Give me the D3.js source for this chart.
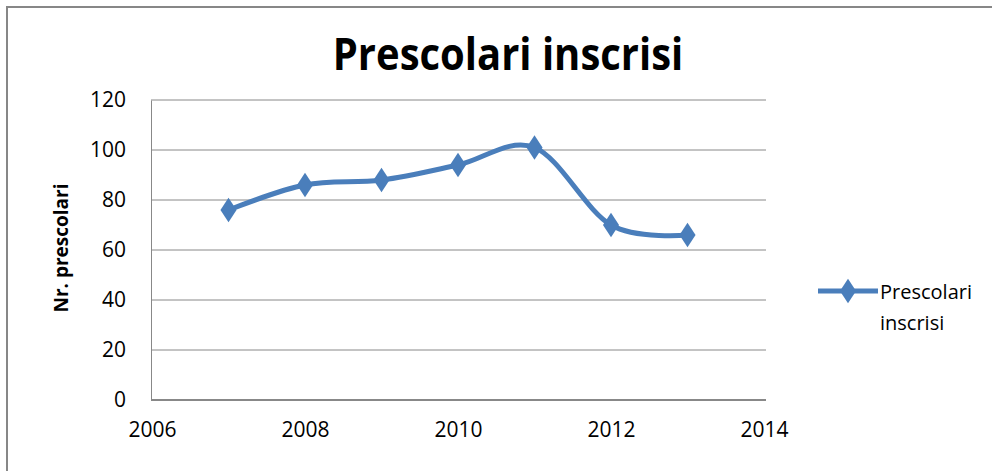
<!DOCTYPE html>
<head>
  <meta charset="utf-8">
  <title>Prescolari inscrisi</title>
  <script src="https://cdn.jsdelivr.net/npm/d3@7"></script>
  <style>
    body { margin: 0; background: #fff; }
    text { font-family: "Open Sans", sans-serif; }
  </style>
</head>
<body>
<div id="chart"></div>
<script>
// data
const years = [2007, 2008, 2009, 2010, 2011, 2012, 2013];
const enrolled = [76, 86, 88, 94, 101, 70, 66];
const xTicks = [2006, 2008, 2010, 2012, 2014];
const yTicks = [0, 20, 40, 60, 80, 100, 120];
const seriesName = ['Prescolari', 'inscrisi'];

const width = 992, height = 471;
const plot = { left: 152, right: 764, top: 100, bottom: 400 };
const blue = '#4A7EBB';

const svg = d3.select('#chart').append('svg')
  .attr('width', width)
  .attr('height', height);

// chart area border (right and bottom run off the picture)
svg.append('rect')
  .attr('x', 7).attr('y', 7)
  .attr('width', width + 10).attr('height', height + 10)
  .attr('fill', 'none')
  .attr('stroke', '#878787')
  .attr('stroke-width', 2);

const x = d3.scaleLinear().domain([2006, 2014]).range([plot.left, plot.right]);
const y = d3.scaleLinear().domain([0, 120]).range([plot.bottom, plot.top]);

// gridlines
svg.append('g')
  .selectAll('line')
  .data(yTicks.filter(d => d > 0))
  .enter().append('line')
  .attr('x1', plot.left - 1).attr('x2', plot.right + 2)
  .attr('y1', d => y(d)).attr('y2', d => y(d))
  .attr('stroke', '#888')
  .attr('stroke-width', 1);

// y axis
const yAxis = svg.append('g')
  .attr('transform', `translate(${plot.left - 1},0)`)
  .call(d3.axisLeft(y).tickValues(yTicks).tickSize(0).tickPadding(25));
yAxis.select('.domain').attr('stroke', '#888');
yAxis.selectAll('text').style('font-size', '21px').attr('fill', '#000');

// x axis
const xAxis = svg.append('g')
  .attr('transform', `translate(0,${plot.bottom})`)
  .call(d3.axisBottom(x).tickValues(xTicks).tickFormat(d3.format('d')).tickSize(0).tickPadding(22));
xAxis.select('.domain').attr('stroke', '#888').attr('stroke-width', 2)
  .attr('d', `M${plot.left - 1},0H${plot.right + 2}`);
xAxis.selectAll('text').style('font-size', '21px').attr('fill', '#000');

// title
svg.append('text')
  .attr('transform', 'translate(508,70) scale(1,1.12)')
  .attr('text-anchor', 'middle')
  .style('font-size', '40px')
  .style('font-weight', 'bold')
  .text('Prescolari inscrisi');

// y axis title
svg.append('text')
  .attr('transform', 'translate(68,248) rotate(-90)')
  .attr('text-anchor', 'middle')
  .style('font-size', '19px')
  .style('font-weight', 'bold')
  .text('Nr. prescolari');

const points = years.map((yr, i) => [x(yr), y(enrolled[i])]);

const line = d3.line().curve(d3.curveCardinal.tension(0));
svg.append('path')
  .attr('d', line(points))
  .attr('fill', 'none')
  .attr('stroke', blue)
  .attr('stroke-width', 5);

const diamond = d3.symbol().type(d3.symbolDiamond).size(170);
svg.append('g')
  .selectAll('path')
  .data(points)
  .enter().append('path')
  .attr('transform', d => `translate(${d[0]},${d[1]}) scale(1.15,1)`)
  .attr('d', diamond)
  .attr('fill', blue);

// legend
const lg = svg.append('g').attr('transform', 'translate(818,291)');
lg.append('line')
  .attr('x1', 0).attr('x2', 60)
  .attr('stroke', blue).attr('stroke-width', 5);
lg.append('path')
  .attr('transform', 'translate(30,0) scale(1.15,1)')
  .attr('d', diamond)
  .attr('fill', blue);
lg.selectAll('text.lbl')
  .data(seriesName)
  .enter().append('text')
  .attr('class', 'lbl')
  .attr('x', 62)
  .attr('y', (d, i) => 8 + i * 31)
  .style('font-size', '20px')
  .text(d => d);
</script>
</body>
